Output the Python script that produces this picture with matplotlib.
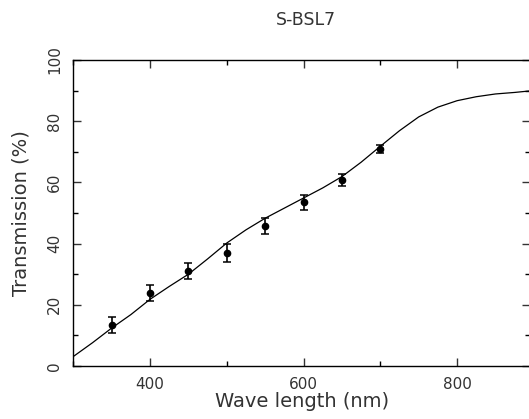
import matplotlib
matplotlib.use("Agg")
import matplotlib.pyplot as plt
from matplotlib.ticker import MultipleLocator

title = "S-BSL7"
xlabel = "Wave length (nm)"
ylabel = "Transmission (%)"

# measured points
meas_wl = [350, 400, 450, 500, 550, 600, 650, 700]
meas_T = [13.4, 23.8, 31.0, 37.0, 45.8, 53.5, 60.8, 70.9]
meas_err = [2.5, 2.6, 2.7, 2.9, 2.7, 2.4, 2.1, 1.4]

# calculated curve
curve_wl = [300, 325, 350, 375, 400, 425, 450, 475, 500, 525, 550, 575, 600,
            625, 650, 675, 700, 725, 750, 775, 800, 825, 850, 875, 895]
curve_T = [3.1, 7.6, 12.4, 16.8, 21.8, 26.0, 30.0, 35.0, 40.2, 44.5, 48.3, 51.6, 54.9,
           58.2, 61.9, 66.6, 71.8, 76.9, 81.4, 84.6, 86.7, 88.0, 88.9, 89.4, 89.9]

plt.rcParams['font.family'] = ['DejaVu Sans']

fig = plt.figure(figsize=(5.29, 4.19), dpi=100)
ax = fig.add_axes([73.3 / 529, (419 - 366) / 419, (530 - 73.3) / 529, (366 - 60) / 419])

ax.plot(curve_wl, curve_T, color='black', lw=0.9)
ax.errorbar(meas_wl, meas_T, yerr=meas_err, fmt='o', color='black', ms=4.5,
            elinewidth=1.2, capsize=3, capthick=1.1)

ax.set_xlim(300, 895)
ax.set_ylim(0, 100)
ax.xaxis.set_major_locator(MultipleLocator(200))
ax.xaxis.set_minor_locator(MultipleLocator(100))
ax.yaxis.set_major_locator(MultipleLocator(20))
ax.yaxis.set_minor_locator(MultipleLocator(10))
ax.tick_params(which='both', direction='in', top=True, right=True, color='black', width=1)
ax.tick_params(which='major', length=6)
ax.tick_params(which='minor', length=3.4)
ax.tick_params(axis='both', labelsize=11, colors='#333333')
ax.tick_params(axis='x', pad=8)
for lab in ax.get_yticklabels():
    lab.set_rotation(90)
    lab.set_va('center')
ax.tick_params(axis='y', pad=8)

for s in ax.spines.values():
    s.set_linewidth(1.0)

ax.set_xlabel(xlabel, fontsize=14, color='#333333', labelpad=0)
ax.set_ylabel(ylabel, fontsize=14, color='#333333', labelpad=12)
fig.text(306 / 529, 1 - 20 / 419, title, fontsize=12.5, color='#333333', ha='center', va='center')

fig.savefig("out.png", dpi=100)
